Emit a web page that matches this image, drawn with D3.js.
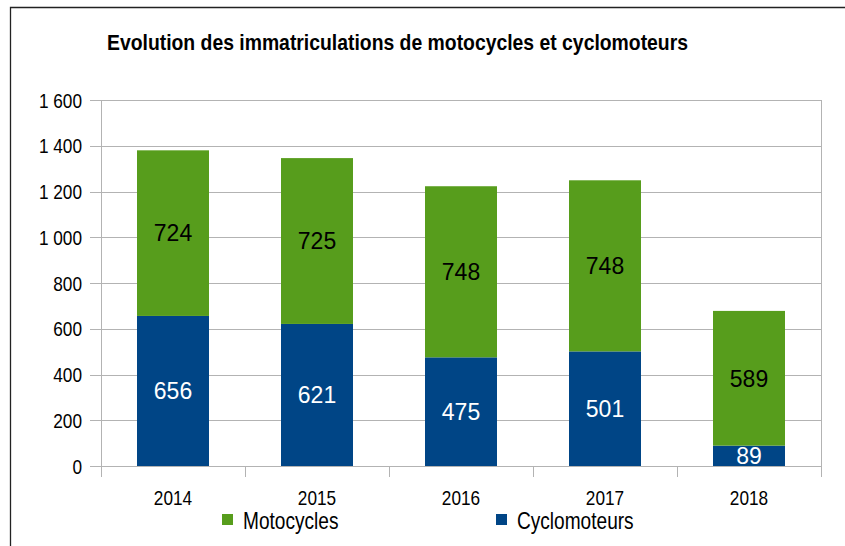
<!DOCTYPE html>
<html>
<head>
<meta charset="utf-8">
<script src="https://cdn.jsdelivr.net/npm/d3@7"></script>
<style>
  html, body { margin: 0; padding: 0; background: #fff; }
  svg { display: block; }
</style>
</head>
<body>
<div id="chart"></div>
<script>
// données
var years = ["2014", "2015", "2016", "2017", "2018"];
var cyclomoteurs = [656, 621, 475, 501, 89];
var motocycles = [724, 725, 748, 748, 589];
var yTicks = [0, 200, 400, 600, 800, 1000, 1200, 1400, 1600];
var seriesNames = ["Motocycles", "Cyclomoteurs"];
var seriesColors = { Motocycles: "#579d1c", Cyclomoteurs: "#004586" };

var width = 845, height = 546;
var plot = { left: 101, right: 821, top: 100, bottom: 466 };
var axisFont = "'Liberation Sans Narrow', 'Liberation Sans', Arial, sans-serif";
var narrow = 0.82; // police étroite simulée

var svg = d3.select("#chart").append("svg")
    .attr("width", width)
    .attr("height", height);

// cadre
svg.append("path")
    .attr("d", "M10.5," + height + "V7.5H" + width)
    .attr("fill", "none")
    .attr("stroke", "#222")
    .attr("stroke-width", 1.3);

// titre
svg.append("text")
    .attr("x", 107)
    .attr("y", 50)
    .attr("font-family", axisFont)
    .attr("font-weight", "bold")
    .attr("font-size", 22)
    .attr("textLength", 581)
    .attr("lengthAdjust", "spacingAndGlyphs")
    .attr("fill", "#000")
    .text("Evolution des immatriculations de motocycles et cyclomoteurs");

var x = d3.scaleBand().domain(years).range([plot.left, plot.right]).paddingInner(0.5).paddingOuter(0.25);
var xb = d3.scaleBand().domain(years).range([plot.left, plot.right]);
var y = d3.scaleLinear().domain([0, 1600]).range([plot.bottom, plot.top]);

var fmt = d3.formatLocale({ decimal: ",", thousands: "\u00a0", grouping: [3], currency: ["", "€"] }).format(",d");

// grille
var grid = svg.append("g");
grid.selectAll("line.h")
    .data(yTicks)
    .enter().append("line")
    .attr("x1", plot.left - 11)
    .attr("x2", plot.right)
    .attr("y1", function (d) { return Math.round(y(d)) + 0.5; })
    .attr("y2", function (d) { return Math.round(y(d)) + 0.5; })
    .attr("stroke", "#b3b3b3")
    .attr("stroke-width", 1);
// bord droit + axe vertical
grid.append("line")
    .attr("x1", plot.right + 0.5).attr("x2", plot.right + 0.5)
    .attr("y1", plot.top).attr("y2", plot.bottom + 11)
    .attr("stroke", "#b3b3b3");
grid.append("line")
    .attr("x1", plot.left + 0.5).attr("x2", plot.left + 0.5)
    .attr("y1", plot.top).attr("y2", plot.bottom + 11)
    .attr("stroke", "#b3b3b3");
// graduations x
grid.selectAll("line.xt")
    .data(years.slice(1))
    .enter().append("line")
    .attr("x1", function (d) { return Math.round(xb(d)) + 0.5; })
    .attr("x2", function (d) { return Math.round(xb(d)) + 0.5; })
    .attr("y1", plot.bottom)
    .attr("y2", plot.bottom + 11)
    .attr("stroke", "#b3b3b3");

// étiquettes axe y
svg.append("g").selectAll("text")
    .data(yTicks)
    .enter().append("text")
    .attr("transform", function (d) { return "translate(82," + y(d) + ") scale(" + narrow + ",1)"; })
    .attr("dy", "0.36em")
    .attr("text-anchor", "end")
    .attr("font-family", axisFont)
    .attr("font-size", 21)
    .attr("fill", "#000")
    .text(function (d) { return fmt(d); });

// étiquettes axe x
svg.append("g").selectAll("text")
    .data(years)
    .enter().append("text")
    .attr("transform", function (d) { return "translate(" + (xb(d) + xb.bandwidth() / 2) + ",505) scale(" + narrow + ",1)"; })
    .attr("text-anchor", "middle")
    .attr("font-family", axisFont)
    .attr("font-size", 21)
    .attr("fill", "#000")
    .text(function (d) { return d; });

// barres empilées
var rows = years.map(function (yr, i) {
    return { year: yr, Cyclomoteurs: cyclomoteurs[i], Motocycles: motocycles[i] };
});
var stack = d3.stack().keys(["Cyclomoteurs", "Motocycles"]);
var layers = stack(rows);

var layerG = svg.append("g").selectAll("g")
    .data(layers)
    .enter().append("g")
    .attr("fill", function (d) { return seriesColors[d.key]; });

layerG.selectAll("rect")
    .data(function (d) { return d; })
    .enter().append("rect")
    .attr("x", function (d) { return x(d.data.year); })
    .attr("width", x.bandwidth())
    .attr("y", function (d) { return y(d[1]); })
    .attr("height", function (d) { return y(d[0]) - y(d[1]); });

// étiquettes de valeurs
layers.forEach(function (layer) {
    svg.append("g").selectAll("text")
        .data(layer)
        .enter().append("text")
        .attr("x", function (d) { return x(d.data.year) + x.bandwidth() / 2; })
        .attr("y", function (d) { return (y(d[0]) + y(d[1])) / 2; })
        .attr("dy", "0.36em")
        .attr("text-anchor", "middle")
        .attr("font-family", "'Liberation Sans', Arial, sans-serif")
        .attr("font-size", 23)
        .attr("fill", layer.key === "Cyclomoteurs" ? "#fff" : "#000")
        .text(function (d) { return d[1] - d[0]; });
});

// légende
var legendX = [222, 496];
var legend = svg.append("g").selectAll("g")
    .data(seriesNames)
    .enter().append("g")
    .attr("transform", function (d, i) { return "translate(" + legendX[i] + ",514)"; });
legend.append("rect")
    .attr("width", 11).attr("height", 11)
    .attr("fill", function (d) { return seriesColors[d]; });
legend.append("text")
    .attr("transform", "translate(21,15) scale(0.83,1)")
    .attr("font-family", axisFont)
    .attr("font-size", 23)
    .attr("fill", "#000")
    .text(function (d) { return d; });
</script>
</body>
</html>
